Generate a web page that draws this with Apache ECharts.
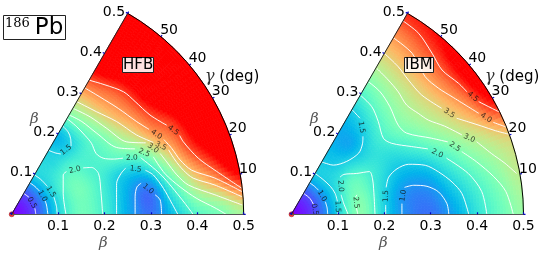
<!DOCTYPE html>
<html><head><meta charset="utf-8">
<style>html,body{margin:0;padding:0;background:#fff}#c{width:545px;height:255px}</style>
<script src="https://cdn.jsdelivr.net/npm/echarts@6/dist/echarts.min.js"></script>
</head><body><div id="c"></div>
<script>
const betaNodes=[0,.05,.1,.15,.2,.25,.3,.35,.4,.45,.5];
const gammaNodes=[0,10,20,30,40,50,60];
const betaTicks=[.1,.2,.3,.4,.5];
const gammaTicks=[10,20,30,40,50];
// energies (MeV), one row per gamma, one column per beta
const hfbEnergy=[
[0,.45,1.55,2.35,1.95,1.2,.72,1.4,2.1,2.4,2.9],
[0,.45,1.55,2.35,1.95,1.25,.75,2.0,3.25,4.1,5.0],
[0,.45,1.55,2.4,2.0,1.5,1.7,3.0,4.3,5.3,6.5],
[0,.45,1.6,2.3,2.0,2.2,2.85,3.95,4.7,6,7.5],
[0,.45,1.55,2.0,1.95,2.35,3.45,4.35,5.5,7,9],
[0,.45,1.55,1.65,1.55,2.55,3.7,4.5,5.7,7.5,10],
[0,.45,1.55,1.55,1.3,2.6,3.75,4.85,6.5,8.5,11]];
const ibmEnergy=[
[0,.45,1.5,2.6,1.55,.9,.72,1.12,1.73,2.25,2.75],
[0,.45,1.5,2.55,1.6,.95,.93,1.45,2.0,2.55,3.1],
[0,.45,1.5,2.4,1.75,1.3,1.4,1.95,2.6,3.1,3.5],
[0,.45,1.45,2.2,1.85,1.65,2.05,2.7,3.3,4.0,5.0],
[0,.45,1.45,1.7,1.55,1.9,2.5,3.05,3.65,4.45,5.5],
[0,.45,1.45,1.42,1.15,1.65,2.35,3.0,3.65,4.35,5.0],
[0,.45,1.45,1.35,1.15,1.4,2.05,2.8,3.5,4.1,4.75]];
// contour lines in the deformation plane: [level, part before the label, part after the label]
const hfbContours=[
['0.5',[[.052,0],[.050,.013]],[[.037,.037],[.026,.045]]],
['1.0',[[.078,0],[.075,.020],[.072,.029]],[[.060,.050],[.050,.060],[.039,.068]]],
['1.5',[[.098,0],[.0965,.017],[.091,.037]],[[.077,.060],[.063,.075],[.049,.085]]],
['1.5',[[.079,.138],[.095,.132],[.106,.130]],[[.128,.147],[.127,.163],[.122,.177],[.110,.190]]],
['2.0',[[.117,0],[.111,.045],[.111,.085],[.118,.092]],[[.154,.100],[.172,.101],[.187,.088],[.192,.052],[.196,0]]],
['2.0',[[.117,.208],[.140,.189],[.158,.170],[.172,.153],[.182,.131],[.197,.121],[.219,.119],[.240,.121]],[[.278,.122],[.298,.106],[.320,.087],[.345,.059],[.373,.024],[.391,0]]],
['1.5',[[.226,0],[.226,.066],[.235,.087],[.246,.100]],[[.288,.095],[.305,.085],[.327,.056],[.345,.024],[.358,0]]],
['1.0',[[.266,0],[.266,.039],[.270,.059],[.279,.067]],[[.309,.042],[.320,.031],[.323,0]]],
['2.5',[[.124,.214],[.151,.200],[.183,.175],[.226,.144],[.266,.141]],[[.305,.124],[.330,.088],[.363,.059],[.399,.034],[.438,.014],[.462,0]]],
['3.0',[[.133,.228],[.169,.210],[.205,.185],[.248,.156],[.289,.154]],[[.320,.131],[.334,.113],[.356,.085],[.381,.063],[.438,.042],[.497,.020]]],
['3.5',[[.140,.243],[.183,.221],[.226,.200],[.269,.171],[.305,.155]],[[.338,.139],[.352,.117],[.370,.095],[.391,.078],[.438,.063],[.496,.038]]],
['4.0',[[.158,.272],[.190,.253],[.230,.228],[.269,.200],[.296,.183]],[[.328,.161],[.345,.142],[.363,.117],[.388,.095],[.438,.078],[.496,.049]]],
['4.5',[[.167,.289],[.201,.279],[.241,.264],[.266,.243],[.298,.214],[.334,.192]],[[.362,.170],[.370,.156],[.402,.121],[.438,.095],[.496,.056]]]
];
const ibmContours=[
['0.5',[[.052,0],[.052,.001]],[[.048,.020],[.042,.031],[.037,.037],[.026,.045]]],
['1.0',[[.078,0],[.0768,.0135],[.073,.027]],[[.058,.052],[.050,.060],[.039,.068]]],
['1.5',[[.100,0],[.100,.005]],[[.099,.028],[.094,.045],[.084,.060],[.068,.075],[.051,.088]]],
['2.0',[[.122,0],[.112,.025],[.107,.042]],[[.1045,.080],[.113,.086],[.1405,.088],[.168,.092],[.175,.074],[.178,.038],[.180,0]]],
['2.5',[[.143,0],[.140,.0136]],[[.138,.037],[.141,.042]]],
['1.5',[[.0657,.1127],[.0905,.106],[.119,.114],[.145,.132],[.153,.152],[.154,.168]],[[.1476,.207],[.131,.225]]],
['1.5',[[.203,0],[.203,.020]],[[.204,.058],[.2095,.080],[.2274,.098],[.2526,.1078],[.2884,.1056],[.3172,.0912],[.346,.0696],[.3675,.0444],[.382,0]]],
['1.0',[[.238,0],[.238,.023]],[[.2436,.058],[.2634,.0625],[.292,.0603],[.3172,.048],[.335,.0228],[.339,0]]],
['2.0',[[.148,.257],[.173,.232],[.187,.200],[.198,.164],[.216,.153],[.259,.146],[.294,.141]],[[.334,.121],[.381,.088],[.410,.049],[.421,0]]],
['2.5',[[.1655,.286],[.191,.264],[.212,.232],[.230,.192],[.248,.175],[.302,.164],[.337,.156]],[[.367,.135],[.399,.113],[.436,.081],[.462,.049],[.478,0]]],
['3.0',[[.1836,.3147],[.2086,.2894],[.230,.264],[.248,.2356],[.273,.2177],[.295,.203],[.330,.190],[.3675,.171]],[[.399,.1565],[.431,.131],[.460,.110],[.485,.088]]],
['3.5',[[.200,.347],[.230,.318],[.252,.2894],[.2806,.257],[.3237,.2284]],[[.356,.207],[.385,.198],[.410,.190],[.440,.180],[.471,.172]]],
['4.0',[[.2181,.3815],[.260,.347],[.288,.2966],[.317,.2716],[.346,.2534],[.4034,.2177]],[[.435,.198],[.463,.188]]],
['4.5',[[.240,.417],[.274,.390],[.303,.347],[.3244,.311],[.360,.2823],[.378,.264]],[[.4034,.2427],[.4466,.221]]]
];

function rainbow(v){
  const t=Math.max(0,Math.min(1,v/5));
  const r=Math.min(1,Math.abs(2*t-.5)),g=Math.sin(Math.PI*t),b=Math.cos(Math.PI*t/2);
  return 'rgb('+Math.round(255*r)+','+Math.round(255*g)+','+Math.round(255*b)+')';
}
function cr(p0,p1,p2,p3,t){
  return .5*(2*p1+(p2-p0)*t+(2*p0-5*p1+4*p2-p3)*t*t+(3*p1-p0-3*p2+p3)*t*t*t);
}
function shade(E,i,j,u,v){ // i: gamma index, j: beta index
  const row=k=>E[Math.max(0,Math.min(E.length-1,k))];
  const at=k=>{const R=row(k),q=n=>R[Math.max(0,Math.min(R.length-1,n))];
    return cr(q(j-1),q(j),q(j+1),q(j+2),u);};
  return cr(at(i-1),at(i),at(i+1),at(i+2),v);
}
const toPolar=p=>[Math.hypot(p[0],p[1]),Math.atan2(p[1],p[0])*180/Math.PI];

function fieldSeries(E,polarIndex){
  const cells=[];
  for(let i=0;i<gammaNodes.length-1;i++)for(let j=0;j<betaNodes.length-1;j++)cells.push([betaNodes[j],gammaNodes[i],i,j]);
  const N=8;
  return {type:'custom',coordinateSystem:'polar',polarIndex,silent:true,animation:false,z:1,
    data:cells,clip:false,
    renderItem(params,api){
      const i=api.value(2),j=api.value(3),children=[];
      const b0=betaNodes[j],db=betaNodes[j+1]-b0,g0=gammaNodes[i],dg=gammaNodes[i+1]-g0;
      for(let a=0;a<N;a++)for(let c=0;c<N;c++){
        const col=rainbow(shade(E,i,j,(a+.5)/N,(c+.5)/N));
        const pts=[[a,c],[a+1,c],[a+1,c+1],[a,c+1]].map(q=>api.coord([b0+db*q[0]/N,g0+dg*q[1]/N]));
        children.push({type:'polygon',shape:{points:pts},style:{fill:col,stroke:col,lineWidth:.8}});
      }
      return {type:'group',children};
    }};
}
function contourSeries(C,polarIndex){
  const out=[],labels=[];
  C.forEach(([lv,a,b])=>{
    [a,b].forEach(seg=>out.push({type:'line',coordinateSystem:'polar',polarIndex,data:seg.map(toPolar),
      showSymbol:false,symbol:'none',smooth:.3,silent:true,animation:false,z:3,
      lineStyle:{color:'#fff',width:1,opacity:.95}}));
    const p=a[a.length-1],q=b[0];
    let rot=Math.atan2(q[1]-p[1],q[0]-p[0])*180/Math.PI;
    if(rot>90)rot-=180; if(rot<-90)rot+=180;
    labels.push({value:toPolar([(p[0]+q[0])/2,(p[1]+q[1])/2]),
      label:{show:true,position:'inside',formatter:lv,rotate:rot,fontSize:7.5,color:'#111',fontFamily:'DejaVu Sans'}});
  });
  out.push({type:'scatter',coordinateSystem:'polar',polarIndex,data:labels,symbolSize:1,itemStyle:{color:'transparent'},silent:true,animation:false,z:4});
  return out;
}
const originSeries=polarIndex=>({type:'scatter',coordinateSystem:'polar',polarIndex,data:[[0,0]],symbolSize:5,clip:false,
  itemStyle:{color:'#f00000',borderColor:'#700',borderWidth:.5},silent:true,animation:false,z:6});

const cy=214.3,R=232;
const centers=[11.7,291.5];
const polar=[],angleAxis=[],radiusAxis=[];
const tickStyle={show:true,length:2,lineStyle:{color:'#0000c8',width:1.2}};
const lab={fontFamily:'DejaVu Sans',fontSize:14,color:'#000'};
const betaFmt=v=>betaTicks.some(t=>Math.abs(t-v)<1e-6)?v.toFixed(1):'';
centers.forEach((cx,k)=>{
  polar.push({center:[cx,cy],radius:[0,R]});
  angleAxis.push({polarIndex:2*k,type:'value',min:0,max:60,interval:10,startAngle:0,endAngle:60,clockwise:false,z:10,
    axisLine:{show:true,lineStyle:{color:'#000',width:1}},axisTick:tickStyle,splitLine:{show:false},
    axisLabel:Object.assign({show:true,margin:-1,align:'left',
      formatter:v=>v===10?'{u|10}':gammaTicks.includes(v)?String(v):'',
      rich:{u:{fontFamily:'DejaVu Sans',fontSize:14,color:'#000',padding:[0,0,10,0]}}},lab)});
  radiusAxis.push({polarIndex:2*k,type:'value',min:0,max:.5,interval:.1,z:10,
    axisLine:{show:true,lineStyle:{color:'#555',width:1}},axisTick:tickStyle,splitLine:{show:false},
    axisLabel:Object.assign({show:true,margin:-5,align:'center',verticalAlign:'top',formatter:betaFmt},lab)});
  polar.push({center:[cx,cy],radius:[0,R]});
  angleAxis.push({polarIndex:2*k+1,type:'value',min:0,max:60,startAngle:60,endAngle:0,clockwise:true,show:false});
  radiusAxis.push({polarIndex:2*k+1,type:'value',min:0,max:.5,interval:.1,z:10,
    axisLine:{show:true,lineStyle:{color:'#222',width:1}},axisTick:tickStyle,splitLine:{show:false},
    axisLabel:Object.assign({show:true,margin:3,align:'right',verticalAlign:'middle',formatter:betaFmt},lab)});
});
const series=[fieldSeries(hfbEnergy,0),fieldSeries(ibmEnergy,2),
  ...contourSeries(hfbContours,0),...contourSeries(ibmContours,2),originSeries(0),originSeries(2)];
const boxText=(text,left)=>({text,left,top:58,padding:[0,1,0,1],borderColor:'#222',borderWidth:1,backgroundColor:'rgba(255,255,255,.88)',
  textStyle:{fontFamily:'DejaVu Sans',fontWeight:'normal',fontSize:15,color:'#000',lineHeight:14}});
const gammaTitle=left=>({text:'{g|\u03b3} (deg)',left,top:69,padding:0,textStyle:{fontFamily:'DejaVu Sans',fontWeight:'normal',fontSize:15,color:'#000',
  rich:{g:{fontFamily:'DejaVu Serif',fontStyle:'italic',fontSize:16,color:'#333'}}}});
const betaTitle=(left,top)=>({text:'\u03b2',left,top,padding:0,textStyle:{fontFamily:'DejaVu Serif',fontStyle:'italic',fontWeight:'normal',fontSize:15,color:'#555'}});
const option={animation:false,polar,angleAxis,radiusAxis,series,
  title:[
    {text:'{a|186}{b|Pb}',left:3,top:15,padding:[2,2,0,2],borderColor:'#222',borderWidth:1,
     textStyle:{fontWeight:'normal',rich:{a:{fontFamily:'DejaVu Serif',fontSize:13,verticalAlign:'top',lineHeight:23,padding:[0,5,0,0],color:'#000'},b:{fontFamily:'DejaVu Sans',fontSize:23,lineHeight:23,color:'#000'}}}},
    boxText('HFB',122),boxText('IBM',404),gammaTitle(205),gammaTitle(485),
    betaTitle(99,236),betaTitle(379,236),betaTitle(30,112),betaTitle(310,112)
  ]};
const chart=echarts.init(document.getElementById('c'),null,{renderer:'canvas'});
chart.setOption(option);
</script></body></html>
